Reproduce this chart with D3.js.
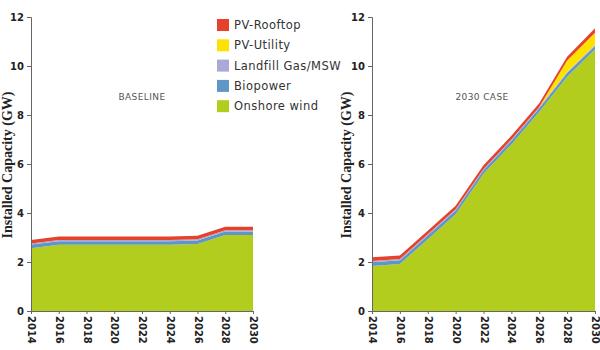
<!DOCTYPE html>
<html><head><meta charset="utf-8">
<script src="https://cdn.jsdelivr.net/npm/d3@7"></script>
<style>body{margin:0;background:#fff}svg{display:block}</style>
</head><body>
<svg id="c" width="600" height="350"></svg>
<script>
const years = [2014,2016,2018,2020,2022,2024,2026,2028,2030];
const seriesNames = ["Onshore wind","Biopower","Landfill Gas/MSW","PV-Utility","PV-Rooftop"];
const seriesColors = ["#b3cd1e","#5e97c6","#aaa8d6","#fde200","#e5412b"];
const yTicks = [0,2,4,6,8,10,12];
// Baseline
const baseWind     = [2.56,2.70,2.70,2.70,2.70,2.70,2.73,3.10,3.10];
const baseBio      = [0.15,0.15,0.15,0.15,0.15,0.15,0.15,0.15,0.15];
const baseLandfill = [0.05,0.05,0.05,0.05,0.05,0.05,0.05,0.05,0.05];
const baseUtility  = [0,0,0,0,0,0,0,0,0];
const baseRooftop  = [0.14,0.14,0.14,0.14,0.14,0.14,0.14,0.14,0.14];
// 2030 case
const caseWind     = [1.84,1.92,2.93,3.95,5.60,6.80,8.13,9.56,10.68];
const caseBio      = [0.15,0.15,0.15,0.15,0.15,0.15,0.15,0.15,0.14];
const caseLandfill = [0.05,0.05,0.05,0.05,0.05,0.05,0.05,0.05,0.04];
const caseUtility  = [0,0,0,0,0,0,0,0.46,0.50];
const caseRooftop  = [0.15,0.15,0.15,0.15,0.15,0.15,0.15,0.16,0.18];

const svg = d3.select("#c");
const keys = ["wind","bio","landfill","utility","rooftop"];

function panel(x0, x1, arrs, title, titleX, labelX){
  const x = d3.scaleLinear().domain([2014,2030]).range([x0,x1]);
  const y = d3.scaleLinear().domain([0,12]).range([311,17]);
  const rows = years.map((yr,i)=>{const o={year:yr}; keys.forEach((k,j)=>o[k]=arrs[j][i]); return o;});
  const stack = d3.stack().keys(keys)(rows);
  const area = d3.area().x(d=>x(d.data.year)).y0(d=>y(d[0])).y1(d=>y(d[1]));
  const g = svg.append("g");
  g.selectAll("path.a").data(stack).join("path").attr("class","a")
    .attr("d",area).attr("fill",(d,i)=>seriesColors[i]);
  const ya = g.append("g").attr("transform",`translate(${x0},0)`)
    .call(d3.axisLeft(y).tickValues(yTicks).tickSize(4).tickPadding(3).tickFormat(d3.format("d")));
  ya.select(".domain").attr("stroke","#666");
  ya.selectAll(".tick line").attr("stroke","#666");
  ya.selectAll("text").attr("font-family","'DejaVu Sans', sans-serif").attr("font-size",10).attr("font-weight",600).attr("fill","#222");
  const xa = g.append("g").attr("transform",`translate(0,311)`)
    .call(d3.axisBottom(x).tickValues(years).tickSize(3).tickFormat(d3.format("d")));
  xa.select(".domain").attr("stroke","#666");
  xa.selectAll(".tick line").attr("stroke","#666");
  xa.selectAll("text").attr("font-family","'DejaVu Sans', sans-serif").attr("font-size",10).attr("font-weight",600).attr("fill","#222")
    .attr("transform","rotate(90)").attr("text-anchor","start").attr("x",5).attr("y",0).attr("dy","0.35em");
  svg.append("text").attr("x",titleX).attr("y",100).attr("text-anchor","middle")
    .attr("font-family","'DejaVu Sans', sans-serif").attr("font-size",9).attr("fill","#555").attr("letter-spacing",0.4).text(title);
  svg.append("text").attr("transform",`translate(${labelX},165) rotate(-90)`).attr("text-anchor","middle")
    .attr("font-family","'Liberation Serif', serif").attr("font-weight","bold").attr("font-size",14).attr("fill","#222")
    .text("Installed Capacity (GW)");
}
panel(31,253,[baseWind,baseBio,baseLandfill,baseUtility,baseRooftop],"BASELINE",142,11.5);
panel(372,595,[caseWind,caseBio,caseLandfill,caseUtility,caseRooftop],"2030 CASE",482,350.5);

// legend (top to bottom: reverse of stack order)
const leg = svg.append("g");
const legOrder = [4,3,2,1,0];
legOrder.forEach((si,i)=>{
  const cy = 25 + i*20.3;
  leg.append("rect").attr("x",217).attr("y",cy-6).attr("width",12).attr("height",12).attr("fill",seriesColors[si]);
  leg.append("text").attr("x",234).attr("y",cy).attr("dy","0.35em")
    .attr("font-family","'DejaVu Sans', sans-serif").attr("font-size",11.5).attr("letter-spacing",0.45).attr("fill","#333").text(seriesNames[si]);
});
</script>
</body></html>
